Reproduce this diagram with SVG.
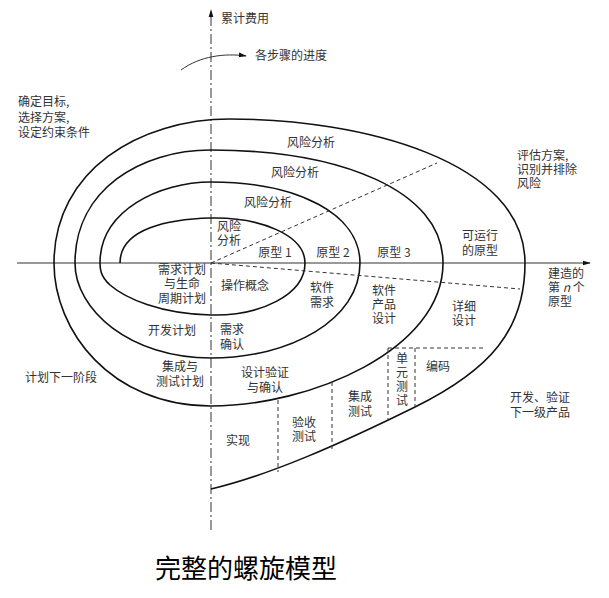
<svg xmlns="http://www.w3.org/2000/svg" width="609" height="598" viewBox="0 0 609 598">
<style>
text{font-family:"Noto Sans CJK SC","Liberation Serif",serif;font-size:12px;fill:#333}
.c{text-anchor:middle}
.s{fill:none;stroke:#111;stroke-width:1.6}
.d{fill:none;stroke:#333;stroke-width:1;stroke-dasharray:4 3}
.ax{fill:none;stroke:#333;stroke-width:1}
</style>
<defs><marker id="ah" viewBox="0 0 10 10" refX="9" refY="5" markerWidth="8" markerHeight="8" orient="auto"><path d="M0,2L10,5L0,8z" fill="#111"/></marker></defs>
<rect width="609" height="598" fill="#fff"/>
<g id="connectors">
<path class="ax" d="M211,530V10" stroke-dasharray="10 3 2 3" marker-end="url(#ah)"/>
<path class="ax" d="M17,263H590" marker-end="url(#ah)"/>
<path class="ax" d="M181,70C200,56 225,53 246,56" marker-end="url(#ah)"/>
<path class="s" d="M120,263C120,228 170,219 211,218C260,217 305,235 305,263"/>
<path class="s" d="M305,263C305,295 260,316 211,315C160,314 125,298 110,285C100,276 100,268 100,263"/>
<path class="s" d="M100,263C100,210 160,182 211,182C300,182 360,215 360,263"/>
<path class="s" d="M360,263C360,320 290,358 211,358C130,358 75,310 75,263"/>
<path class="s" d="M75,263C75,190 140,150 211,150C340,150 443,190 443,263"/>
<path class="s" d="M443,263C443,350 310,406 211,406C110,406 54,330 54,263"/>
<path class="s" d="M54,263C54,170 140,119 230,119C360,119 525,160 525,263"/>
<path class="s" d="M525,263C525,330 490,370 415,407C340,444 270,475 211,489"/>
<path class="d" d="M211,263L437,163M211,263L520,289M278,400V472M332,382V450M388,348V420M415,348V407M388,348H486"/>
</g>
<g id="labels">
<text x="221" y="23">累计费用</text>
<text x="255" y="60">各步骤的进度</text>
<text x="18" y="106">确定目标,</text>
<text x="18" y="122">选择方案,</text>
<text x="18" y="137">设定约束条件</text>
<text class="c" x="311" y="147">风险分析</text>
<text class="c" x="295" y="177">风险分析</text>
<text class="c" x="268" y="207">风险分析</text>
<text x="217" y="231">风险</text>
<text x="217" y="245">分析</text>
<text class="c" x="275" y="257">原型 1</text>
<text class="c" x="333" y="257">原型 2</text>
<text class="c" x="394" y="257">原型 3</text>
<text class="c" x="480" y="240">可运行</text>
<text class="c" x="480" y="255">的原型</text>
<text x="517" y="160">评估方案,</text>
<text x="517" y="174">识别并排除</text>
<text x="517" y="188">风险</text>
<text x="548" y="278">建造的</text>
<text x="548" y="292">第 <tspan font-style="italic">n</tspan> 个</text>
<text x="548" y="306">原型</text>
<text class="c" x="182" y="274">需求计划</text>
<text class="c" x="182" y="288">与生命</text>
<text class="c" x="182" y="303">周期计划</text>
<text class="c" x="245" y="290">操作概念</text>
<text class="c" x="322" y="292">软件</text>
<text class="c" x="322" y="307">需求</text>
<text class="c" x="384" y="295">软件</text>
<text class="c" x="384" y="309">产品</text>
<text class="c" x="384" y="323">设计</text>
<text class="c" x="464" y="311">详细</text>
<text class="c" x="464" y="325">设计</text>
<text class="c" x="172" y="335">开发计划</text>
<text x="220" y="334">需求</text>
<text x="220" y="349">确认</text>
<text class="c" x="180" y="371">集成与</text>
<text class="c" x="180" y="386">测试计划</text>
<text class="c" x="265" y="377">设计验证</text>
<text class="c" x="265" y="392">与确认</text>
<text x="25" y="382">计划下一阶段</text>
<text class="c" x="402" y="363">单</text>
<text class="c" x="402" y="377">元</text>
<text class="c" x="402" y="391">测</text>
<text class="c" x="402" y="405">试</text>
<text class="c" x="438" y="371">编码</text>
<text class="c" x="360" y="401">集成</text>
<text class="c" x="360" y="416">测试</text>
<text class="c" x="304" y="427">验收</text>
<text class="c" x="304" y="441">测试</text>
<text class="c" x="238" y="445">实现</text>
<text x="510" y="402">开发、验证</text>
<text x="510" y="417">下一级产品</text>
<text class="c" x="246" y="578" style="font-size:26px;fill:#000">完整的螺旋模型</text>
</g>
</svg>
